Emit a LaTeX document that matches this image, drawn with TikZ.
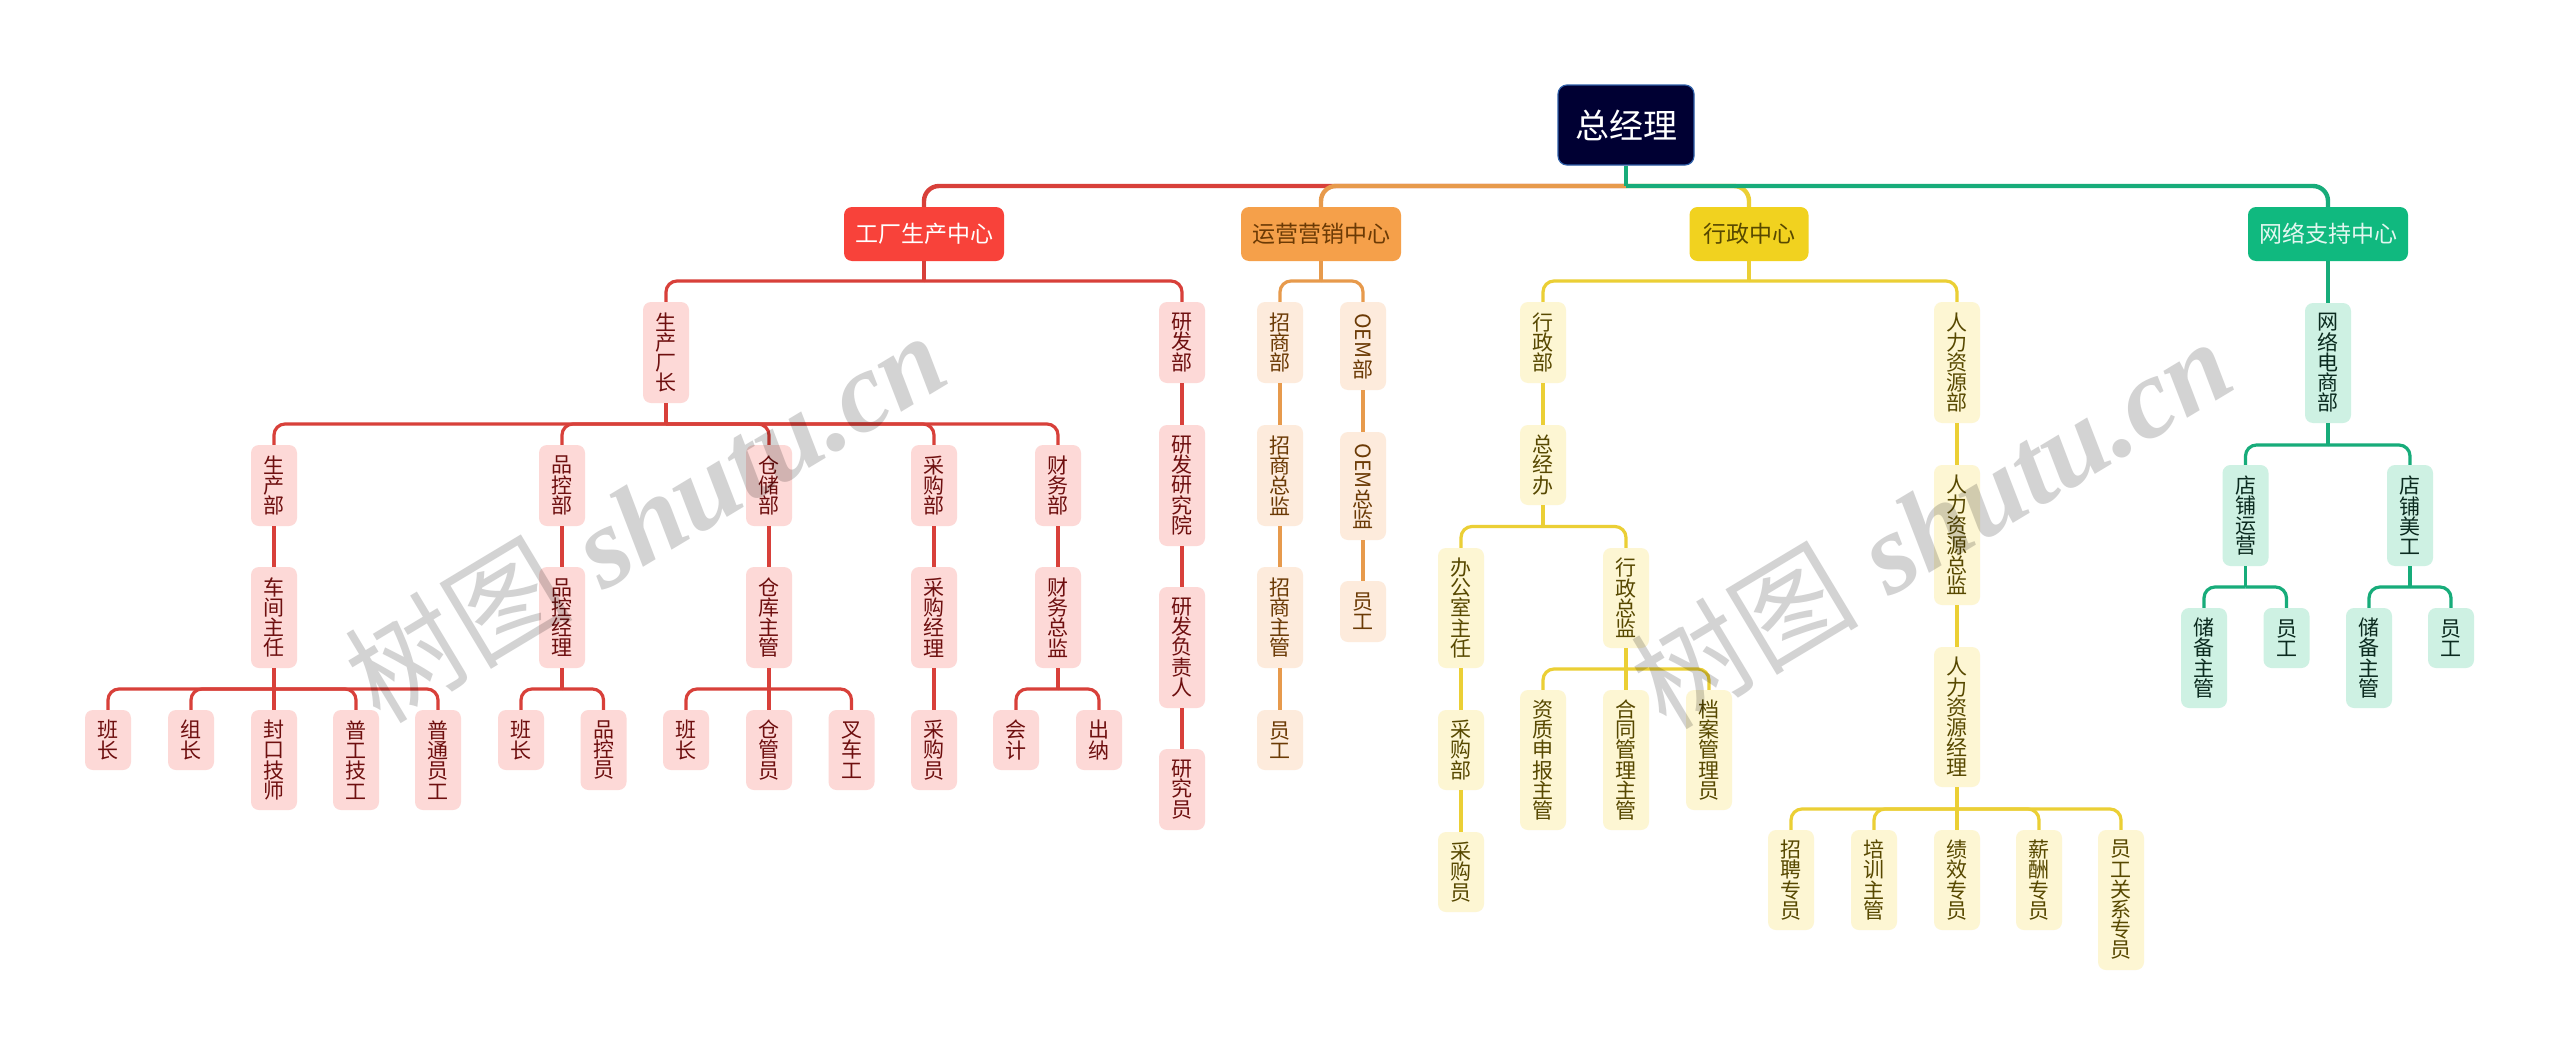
\documentclass[tikz,border=0pt]{standalone}
\usepackage{fontspec}
\usepackage{graphicx}
\setmainfont{Liberation Sans}
\newfontfamily\cjk{Noto Sans CJK SC}
\newfontfamily\wmlat{Liberation Serif}
\definecolor{rootfill}{HTML}{000033}
\definecolor{rootline}{HTML}{2F5FA8}
\definecolor{redmain}{HTML}{F8423A}
\definecolor{redline}{HTML}{D8403A}
\definecolor{redsoft}{HTML}{FDD9D7}
\definecolor{redtext}{HTML}{6E0F0F}
\definecolor{ormain}{HTML}{F5A04A}
\definecolor{orline}{HTML}{E79A4C}
\definecolor{orsoft}{HTML}{FDEBDC}
\definecolor{ortext}{HTML}{6B3A05}
\definecolor{yemain}{HTML}{F1D21F}
\definecolor{yeline}{HTML}{EBCF35}
\definecolor{yesoft}{HTML}{FDF6D3}
\definecolor{yetext}{HTML}{574800}
\definecolor{grmain}{HTML}{10B97F}
\definecolor{grline}{HTML}{17AC7A}
\definecolor{grsoft}{HTML}{CEF1E3}
\definecolor{grtext}{HTML}{0B2A1F}
\definecolor{wmark}{HTML}{D3D3D3}
\tikzset{
  box/.style={rounded corners=8pt,inner sep=0pt,align=center,font=\cjk\fontsize{21}{20.2}\selectfont,minimum width=46pt},
  rootbox/.style={box,fill=rootfill,draw=rootline,line width=1.2pt,text=white,rounded corners=9pt,font=\cjk\fontsize{34}{36}\selectfont},
  mainred/.style={box,fill=redmain,text=white,font=\cjk\fontsize{23}{24}\selectfont},
  mainor/.style={box,fill=ormain,text=ortext,font=\cjk\fontsize{23}{24}\selectfont},
  mainye/.style={box,fill=yemain,text=yetext,font=\cjk\fontsize{23}{24}\selectfont},
  maingr/.style={box,fill=grmain,text=white!88!grmain,font=\cjk\fontsize{23}{24}\selectfont},
  softred/.style={box,fill=redsoft,text=redtext},
  softor/.style={box,fill=orsoft,text=ortext},
  softye/.style={box,fill=yesoft,text=yetext},
  softgr/.style={box,fill=grsoft,text=grtext},
  link/.style={line width=3.2pt,rounded corners=11pt},
  toplink/.style={line width=4.4pt,rounded corners=15pt},
  watermark/.style={text=wmark,inner sep=0pt,rotate=31,anchor=center},
}
% \bx{style}{name}{centre x}{top}{bottom}{width}{text}
\newcommand{\bx}[7]{\node[#1,minimum width=#6pt,minimum height={(#5-#4)*1pt}] (#2) at ({#3},{(#4+#5)/2}) {#7};}
\newcommand{\vn}[6]{\bx{#1}{#2}{#3}{#4}{#5}{46}{#6}}
% \branch{style}{parent}{bus y}{children}
\newcommand{\branch}[4]{%
  \coordinate (#2bus) at (#2.south |- 0,#3);
  \draw[#1] (#2.south) -- (#2bus);
  \foreach \kid in {#4}{\draw[#1] (#2bus) -| (\kid.north);}%
}
\begin{document}
\begin{tikzpicture}[x=1pt,y=-1pt]
\useasboundingbox (0,0) rectangle (2560,1055);
\fill[white] (0,0) rectangle (2560,1055);

\bx{rootbox}{root}{1626}{85}{165}{136}{总经理}
\bx{mainred}{fac}{924}{207}{261}{160}{工厂生产中心}
\bx{mainor}{ops}{1321}{207}{261}{160}{运营营销中心}
\bx{mainye}{adm}{1749}{207}{261}{119}{行政中心}
\bx{maingr}{net}{2328}{207}{261}{160}{网络支持中心}

% red branch
\vn{softred}{plant}{666}{302}{403}{生\\产\\厂\\长}
\vn{softred}{rd}{1182}{302}{383}{研\\发\\部}
\vn{softred}{prod}{274}{445}{526}{生\\产\\部}
\vn{softred}{qc}{562}{445}{526}{品\\控\\部}
\vn{softred}{store}{769}{445}{526}{仓\\储\\部}
\vn{softred}{buy}{934}{445}{526}{采\\购\\部}
\vn{softred}{fin}{1058}{445}{526}{财\\务\\部}
\vn{softred}{shop}{274}{567}{668}{车\\间\\主\\任}
\vn{softred}{qcm}{562}{567}{668}{品\\控\\经\\理}
\vn{softred}{wh}{769}{567}{668}{仓\\库\\主\\管}
\vn{softred}{buym}{934}{567}{668}{采\\购\\经\\理}
\vn{softred}{cfo}{1058}{567}{668}{财\\务\\总\\监}
\vn{softred}{a1}{108}{710}{770}{班\\长}
\vn{softred}{a2}{191}{710}{770}{组\\长}
\vn{softred}{a3}{274}{710}{810}{封\\口\\技\\师}
\vn{softred}{a4}{356}{710}{810}{普\\工\\技\\工}
\vn{softred}{a5}{438}{710}{810}{普\\通\\员\\工}
\vn{softred}{b1}{521}{710}{770}{班\\长}
\vn{softred}{b2}{603.5}{710}{790}{品\\控\\员}
\vn{softred}{c1}{686}{710}{770}{班\\长}
\vn{softred}{c2}{769}{710}{790}{仓\\管\\员}
\vn{softred}{c3}{851.5}{710}{790}{叉\\车\\工}
\vn{softred}{d1}{934}{710}{790}{采\\购\\员}
\vn{softred}{e1}{1016}{710}{770}{会\\计}
\vn{softred}{e2}{1099}{710}{770}{出\\纳}
\vn{softred}{rd1}{1182}{425}{546}{研\\发\\研\\究\\院}
\vn{softred}{rd2}{1182}{587}{708}{研\\发\\负\\责\\人}
\vn{softred}{rd3}{1182}{749}{830}{研\\究\\员}

% orange branch
\vn{softor}{zs}{1280}{302}{383}{招\\商\\部}
\vn{softor}{oem}{1363}{302}{390}{\rotatebox{-90}{OEM}\\部}
\vn{softor}{zs1}{1280}{425}{526}{招\\商\\总\\监}
\vn{softor}{zs2}{1280}{567}{668}{招\\商\\主\\管}
\vn{softor}{zs3}{1280}{710}{770}{员\\工}
\vn{softor}{oem1}{1363}{432}{540}{\rotatebox{-90}{OEM}\\总\\监}
\vn{softor}{oem2}{1363}{581}{642}{员\\工}

% yellow branch
\vn{softye}{xz}{1543}{302}{383}{行\\政\\部}
\vn{softye}{zjb}{1543}{425}{505}{总\\经\\办}
\vn{softye}{bgs}{1461}{548}{668}{办\\公\\室\\主\\任}
\vn{softye}{xzzj}{1626}{548}{648}{行\\政\\总\\监}
\vn{softye}{cgb}{1461}{710}{790}{采\\购\\部}
\vn{softye}{cgy}{1461}{832}{912}{采\\购\\员}
\vn{softye}{zz}{1543}{690}{830}{资\\质\\申\\报\\主\\管}
\vn{softye}{ht}{1626}{690}{830}{合\\同\\管\\理\\主\\管}
\vn{softye}{da}{1709}{690}{810}{档\\案\\管\\理\\员}
\vn{softye}{hr}{1957}{302}{423}{人\\力\\资\\源\\部}
\vn{softye}{hrd}{1957}{465}{605}{人\\力\\资\\源\\总\\监}
\vn{softye}{hrm}{1957}{647}{787}{人\\力\\资\\源\\经\\理}
\vn{softye}{h1}{1791}{830}{930}{招\\聘\\专\\员}
\vn{softye}{h2}{1874}{830}{930}{培\\训\\主\\管}
\vn{softye}{h3}{1957}{830}{930}{绩\\效\\专\\员}
\vn{softye}{h4}{2039}{830}{930}{薪\\酬\\专\\员}
\vn{softye}{h5}{2121}{830}{970}{员\\工\\关\\系\\专\\员}

% green branch
\vn{softgr}{ec}{2328}{303}{423}{网\\络\\电\\商\\部}
\vn{softgr}{sa}{2245.5}{465}{566}{店\\铺\\运\\营}
\vn{softgr}{sb}{2410}{465}{566}{店\\铺\\美\\工}
\vn{softgr}{s1}{2204}{608}{708}{储\\备\\主\\管}
\vn{softgr}{s2}{2286.5}{608}{668}{员\\工}
\vn{softgr}{s3}{2369}{608}{708}{储\\备\\主\\管}
\vn{softgr}{s4}{2451}{608}{668}{员\\工}

% top level
\branch{toplink,draw=redline}{root}{186}{fac}
\branch{toplink,draw=orline}{root}{186}{ops}
\branch{toplink,draw=yeline}{root}{186}{adm}
\branch{toplink,draw=grline}{root}{186}{net}
% red
\branch{link,draw=redline}{fac}{281}{plant,rd}
\branch{link,draw=redline}{plant}{424}{prod,qc,store,buy,fin}
\draw[link,draw=redline] (prod) -- (shop);
\draw[link,draw=redline] (qc) -- (qcm);
\draw[link,draw=redline] (store) -- (wh);
\draw[link,draw=redline] (buy) -- (buym);
\draw[link,draw=redline] (fin) -- (cfo);
\branch{link,draw=redline}{shop}{689}{a1,a2,a3,a4,a5}
\branch{link,draw=redline}{qcm}{689}{b1,b2}
\branch{link,draw=redline}{wh}{689}{c1,c2,c3}
\draw[link,draw=redline] (buym) -- (d1);
\branch{link,draw=redline}{cfo}{689}{e1,e2}
\draw[link,draw=redline] (rd) -- (rd1);
\draw[link,draw=redline] (rd1) -- (rd2);
\draw[link,draw=redline] (rd2) -- (rd3);
% orange
\branch{link,draw=orline}{ops}{281}{zs,oem}
\draw[link,draw=orline] (zs) -- (zs1);
\draw[link,draw=orline] (zs1) -- (zs2);
\draw[link,draw=orline] (zs2) -- (zs3);
\draw[link,draw=orline] (oem) -- (oem1);
\draw[link,draw=orline] (oem1) -- (oem2);
% yellow
\branch{link,draw=yeline}{adm}{281}{xz,hr}
\draw[link,draw=yeline] (xz) -- (zjb);
\branch{link,draw=yeline}{zjb}{526.5}{bgs,xzzj}
\draw[link,draw=yeline] (bgs) -- (cgb);
\draw[link,draw=yeline] (cgb) -- (cgy);
\branch{link,draw=yeline}{xzzj}{669}{zz,ht,da}
\draw[link,draw=yeline] (hr) -- (hrd);
\draw[link,draw=yeline] (hrd) -- (hrm);
\branch{link,draw=yeline}{hrm}{809}{h1,h2,h3,h4,h5}
% green
\draw[link,draw=grline] (net) -- (ec);
\branch{link,draw=grline}{ec}{445}{sa,sb}
\branch{link,draw=grline}{sa}{587}{s1,s2}
\branch{link,draw=grline}{sb}{587}{s3,s4}

\begin{scope}[blend mode=multiply]
\node[watermark] (wm1) at (645,516) {\fontsize{114}{114}\selectfont{\cjk 树图} \wmlat\bfseries\itshape shutu.cn};
\node[watermark] (wm2) at (1931,522) {\fontsize{114}{114}\selectfont{\cjk 树图} \wmlat\bfseries\itshape shutu.cn};
\end{scope}
\end{tikzpicture}
\end{document}
